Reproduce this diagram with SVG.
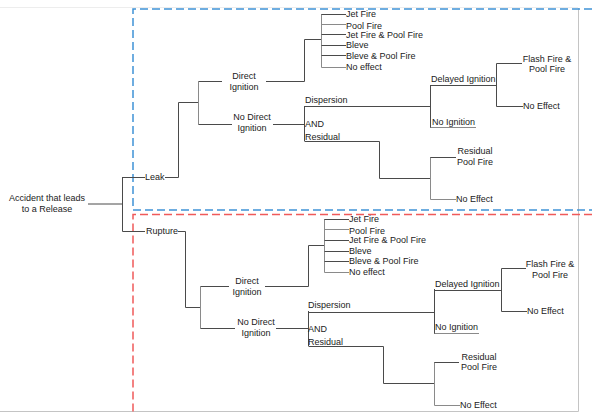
<svg xmlns="http://www.w3.org/2000/svg" width="592" height="414" viewBox="0 0 592 414">
<style>
text{font-family:"Liberation Sans",Arial,sans-serif;font-size:9px;fill:#222}
.c{text-anchor:middle}
.ln{fill:none;stroke:#4a4a4a;stroke-width:1}
.lt{fill:none;stroke:#8a8a8a;stroke-width:1}
.frame{fill:none;stroke:#c4c4c4;stroke-width:1}
.blue{fill:none;stroke:#3f93d6;stroke-width:1.5;stroke-dasharray:8 4}
.red{fill:none;stroke:#f05a5a;stroke-width:1.5;stroke-dasharray:8 4}
</style>
<rect width="592" height="414" fill="#fff"/>
<g id="frames">
<path class="frame" d="M0 7.5H578" stroke-opacity="0.3"/>
<path class="frame" d="M578.5 8V411.5H0"/>
<path class="blue" d="M592 9H133V210H592"/>
<path class="red" d="M592 214.5H133V414"/>
</g>
<g id="connectors">
<!-- root -->
<path class="ln" d="M88 204H122.5M122.5 177V231.5"/>
<path class="ln" d="M122.5 177.5H145M165 177.5H178.5V102.5H198.5"/>
<path class="lt" d="M198.5 81.5V124.5"/>
<path class="ln" d="M198.5 81.5H222M266 81.5H304.5V39.5H321.5"/>
<path class="ln" d="M198.5 124.5H232M273 124.5H304.5"/>
<path class="lt" d="M321.5 14V67.5"/>
<path class="ln" d="M321.5 14.5H346M321.5 34.5H346M321.5 45.5H346M321.5 55.5H346"/>
<path class="lt" d="M321.5 24.5H346M321.5 67.5H346"/>
<path class="ln" d="M304.5 106V141M304.5 106.5H430.5M304.5 141.5H379.5V178.5H430.5"/>
<path class="ln" d="M430.5 85V128M430.5 85.5H496.5"/>
<path class="lt" d="M430.5 127.5H476"/>
<path class="ln" d="M496.5 63.5V106.5M496.5 63.5H522M496.5 106.5H523"/>
<path class="lt" d="M430.5 157V199.5"/>
<path class="ln" d="M430.5 157.5H456"/>
<path class="lt" d="M430.5 199.5H456"/>
<!-- rupture -->
<path class="ln" d="M122.5 231.5H145M178 231.5H185.5V307.5H200.5"/>
<path class="lt" d="M200.5 286.5V328.5"/>
<path class="ln" d="M200.5 286.5H229M265 286.5H308.5V245.5H324.5"/>
<path class="ln" d="M200.5 328.5H235M276 328.5H308.5"/>
<path class="lt" d="M324.5 219V272.5"/>
<path class="ln" d="M324.5 219.5H349M324.5 240.5H349M324.5 251.5H349M324.5 261.5H349"/>
<path class="lt" d="M324.5 229.5H349M324.5 272.5H349"/>
<path class="ln" d="M308.5 311V346M308.5 312.5H434.5M308.5 346.5H383.5V383.5H434.5"/>
<path class="ln" d="M434.5 289V334M434.5 290.5H501.5"/>
<path class="lt" d="M434.5 333.5H479"/>
<path class="ln" d="M501.5 268.5V311.5M501.5 268.5H526M501.5 311.5H527"/>
<path class="lt" d="M434.5 362V405.5"/>
<path class="ln" d="M434.5 362.5H459"/>
<path class="lt" d="M434.5 405.5H460"/>
</g>
<g id="root"><text class="c" x="47" y="201">Accident that leads</text><text class="c" x="47" y="212">to a Release</text></g>
<g id="leak"><text x="145" y="180">Leak</text></g>
<g id="leak-direct"><text class="c" x="244" y="79">Direct</text><text class="c" x="244" y="90">Ignition</text></g>
<g id="leak-nodirect"><text class="c" x="252" y="120">No Direct</text><text class="c" x="252" y="131">Ignition</text></g>
<g id="leak-outcomes">
<text x="346" y="17">Jet Fire</text>
<text x="346" y="29">Pool Fire</text>
<text x="346" y="38">Jet Fire &amp; Pool Fire</text>
<text x="346" y="48">Bleve</text>
<text x="346" y="59">Bleve &amp; Pool Fire</text>
<text x="346" y="70">No effect</text>
</g>
<g id="leak-dispersion"><text x="305" y="103">Dispersion</text></g>
<g id="leak-and"><text x="305" y="127">AND</text></g>
<g id="leak-residual"><text x="305" y="140">Residual</text></g>
<g id="leak-delayed"><text x="431" y="82">Delayed Ignition</text></g>
<g id="leak-noign"><text x="432" y="125">No Ignition</text></g>
<g id="leak-flash"><text class="c" x="547" y="62">Flash Fire &amp;</text><text class="c" x="547" y="72">Pool Fire</text></g>
<g id="leak-noeffect1"><text x="523" y="109">No Effect</text></g>
<g id="leak-respool"><text class="c" x="475" y="154">Residual</text><text class="c" x="475" y="165">Pool Fire</text></g>
<g id="leak-noeffect2"><text x="456" y="202">No Effect</text></g>
<g id="rupture"><text x="146" y="234">Rupture</text></g>
<g id="rup-direct"><text class="c" x="247" y="284">Direct</text><text class="c" x="247" y="295">Ignition</text></g>
<g id="rup-nodirect"><text class="c" x="256" y="325">No Direct</text><text class="c" x="256" y="336">Ignition</text></g>
<g id="rup-outcomes">
<text x="349" y="222">Jet Fire</text>
<text x="349" y="234">Pool Fire</text>
<text x="349" y="243">Jet Fire &amp; Pool Fire</text>
<text x="349" y="254">Bleve</text>
<text x="349" y="264">Bleve &amp; Pool Fire</text>
<text x="349" y="275">No effect</text>
</g>
<g id="rup-dispersion"><text x="308" y="308">Dispersion</text></g>
<g id="rup-and"><text x="308" y="332">AND</text></g>
<g id="rup-residual"><text x="308" y="345">Residual</text></g>
<g id="rup-delayed"><text x="435" y="287">Delayed Ignition</text></g>
<g id="rup-noign"><text x="435" y="330">No Ignition</text></g>
<g id="rup-flash"><text class="c" x="550" y="267">Flash Fire &amp;</text><text class="c" x="550" y="278">Pool Fire</text></g>
<g id="rup-noeffect1"><text x="527" y="314">No Effect</text></g>
<g id="rup-respool"><text class="c" x="479" y="360">Residual</text><text class="c" x="479" y="370">Pool Fire</text></g>
<g id="rup-noeffect2"><text x="460" y="408">No Effect</text></g>
</svg>
